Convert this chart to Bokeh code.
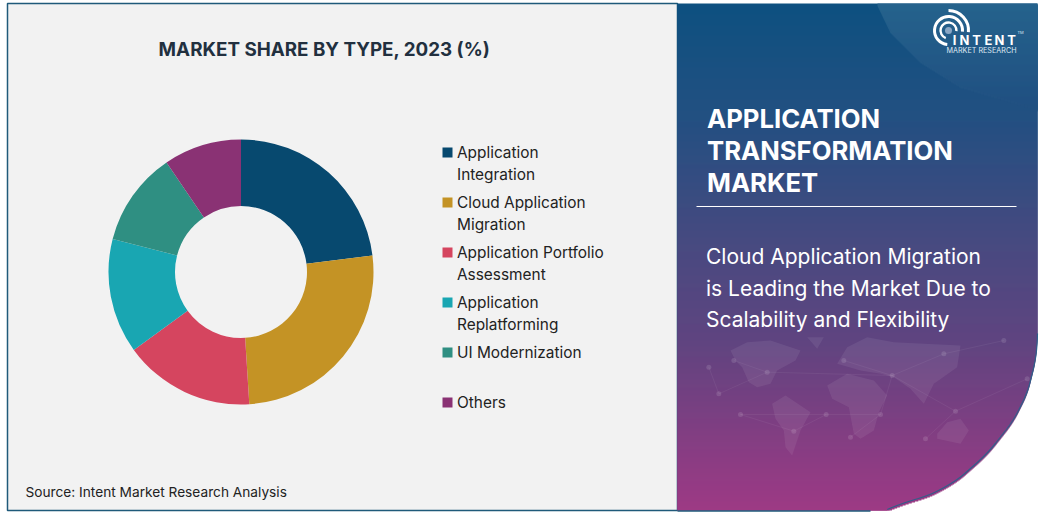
import numpy as np
from bokeh.plotting import figure
from bokeh.models import Range1d
from bokeh.core.properties import value
from bokeh.embed import file_html
from bokeh.resources import INLINE

# ---- chart data ----
categories = ["Application Integration", "Cloud Application Migration",
              "Application Portfolio Assessment", "Application Replatforming",
              "UI Modernization", "Others"]
shares = [23, 26, 16, 14, 11.5, 9.5]
colors = ["#07496f", "#c49325", "#d5455f", "#19a6b2", "#2f8f82", "#8a3274"]
legend_lines = [["Application", "Integration"], ["Cloud Application", "Migration"],
                ["Application Portfolio", "Assessment"], ["Application", "Replatforming"],
                ["UI Modernization"], ["Others"]]
title_text = "MARKET SHARE BY TYPE, 2023 (%)"
source_text = "Source: Intent Market Research Analysis"
panel_title = ["APPLICATION", "TRANSFORMATION", "MARKET"]
panel_sub = ["Cloud Application Migration", "is Leading the Market Due to", "Scalability and Flexibility"]

W, H = 1043, 513
FONT = value("Inter")
Y = lambda py: H - np.asarray(py, dtype=float)

p = figure(width=W, height=H, x_range=Range1d(0, W), y_range=Range1d(0, H),
           output_backend="svg", toolbar_location=None, min_border=0,
           background_fill_color="white", border_fill_color="white",
           outline_line_color=None,
           styles={"position": "absolute", "left": "0px", "top": "0px"})
p.axis.visible = False
p.grid.visible = False

# ---- left panel ----
p.quad(left=[7], right=[677], top=Y([3]), bottom=Y([510]), fill_color="#f2f2f2",
       line_color="#1f5a7a", line_width=1.5)

# ---- right panel: gradient strips, curved lower-right edge ----
curve_y = [3, 340, 360, 392, 420, 453, 483, 502, 510]
curve_x = [1037, 1037, 1035, 1027, 1013, 987, 953, 913, 867]
stop_y = [3, 120, 250, 340, 510]
stop_rgb = np.array([[14, 82, 128], [36, 80, 130], [74, 74, 128], [96, 69, 128], [158, 58, 133]], dtype=float)
ys = np.arange(3, 510)
edge = np.interp(ys, curve_y, curve_x)
edge = np.convolve(np.pad(edge, 10, mode="edge"), np.ones(21) / 21, mode="valid")
rgb = np.stack([np.interp(ys, stop_y, stop_rgb[:, i]) for i in range(3)], axis=1)
hexes = lambda a: ["#%02x%02x%02x" % tuple(int(v) for v in c) for c in a]
# each strip overlaps the next, so no anti-aliased seams let the white through
strip_bottom = np.minimum(ys + 3, 510)
p.quad(left=677, right=edge, top=Y(ys), bottom=Y(strip_bottom), fill_color=hexes(rgb), line_color=None)
p.line(edge[330:], Y(ys[330:]), line_color="#2f5f8a", line_width=1.2)
p.line([677, 870], Y([510.5, 510.5]), line_color="#1f5a7a", line_width=1.5)

# lighter arc in the top-right corner, fading downwards (opaque blended strips)
arc_y = [3, 30, 60, 85, 108]
arc_x = [877, 890, 920, 960, 1037]
ay = np.arange(3, 108)
ax = np.interp(ay, arc_y, arc_x)
aalpha = np.interp(ay, [3, 105], [0.10, 0.0])[:, None]
arc_rgb = rgb[:105] * (1 - aalpha) + 255 * aalpha
p.quad(left=ax, right=1037, top=Y(ay), bottom=Y(ay + 3), fill_color=hexes(arc_rgb), line_color=None)
p.quad(left=[1030], right=[1037], top=Y([108]), bottom=Y([111]), fill_color=hexes(rgb[105:106]), line_color=None)

# faint world map
conv = lambda pts: ([660 + a / 3 for a, _ in pts], list(Y([340 + b / 3 for _, b in pts])))
continents = [
    [(210, 30), (260, 5), (330, 0), (420, 30), (405, 60), (350, 90), (330, 130), (290, 140), (265, 125), (245, 80), (225, 60)],
    [(335, 190), (375, 165), (450, 215), (420, 270), (395, 345), (375, 320), (370, 270), (345, 235)],
    [(500, 135), (560, 100), (640, 120), (680, 165), (655, 215), (640, 270), (600, 295), (580, 280), (565, 200), (515, 175)],
    [(530, 70), (560, 20), (620, -10), (700, 5), (900, 15), (890, 80), (820, 130), (790, 190), (750, 145), (700, 110), (660, 100), (600, 90)],
    [(830, 280), (860, 245), (900, 235), (925, 270), (900, 310), (830, 295)],
    [(440, -10), (490, -10), (470, 25)],
]
for c in continents:
    xs, yy = conv(c)
    p.patch(xs, yy, fill_color="white", fill_alpha=0.07, line_color=None)
nodes = [(175, 160), (240, 222), (497, 222), (145, 80), (220, 60), (320, 95), (400, 272), (660, 222),
         (885, 212), (695, 105), (850, 40), (550, 60), (795, 295), (570, 290), (1030, 0), (1100, 115)]
links = [(0, 5), (0, 3), (1, 2), (2, 6), (2, 7), (7, 9), (9, 10), (9, 11), (9, 8), (5, 4), (8, 12), (7, 13), (10, 14), (8, 15), (5, 9), (6, 1)]
for a, b in links:
    xs, yy = conv([nodes[a], nodes[b]])
    p.line(xs, yy, line_color="white", line_alpha=0.07, line_width=0.8)
nx, ny = conv(nodes)
p.scatter(nx, ny, size=5, fill_color="white", fill_alpha=0.12, line_color=None)

# ---- donut ----
vals = np.array(shares, dtype=float)
edges = np.concatenate([[0], np.cumsum(vals)]) / vals.sum() * 2 * np.pi
p.annular_wedge(x=240.5, y=H - 271.5, inner_radius=66, outer_radius=132.5,
                start_angle=np.pi / 2 - edges[:-1], end_angle=np.pi / 2 - edges[1:],
                direction="clock", fill_color=colors, line_color=None)

# ---- legend ----
for i, (col, lines) in enumerate(zip(colors, legend_lines)):
    top = 152 + 50 * i
    p.quad(left=[442], right=[452], top=Y([top - 5]), bottom=Y([top + 5]), fill_color=col, line_color=None)
    for j, t in enumerate(lines):
        p.text([456.5], Y([top - 0.5 + 22 * j]), text=[t], text_font=FONT, text_font_size="15.4px",
               text_color="#222222", text_baseline="middle", text_align="left")

# ---- texts ----
p.text([324], Y([49]), text=[title_text], text_font=FONT, text_font_size="18.8px", text_font_style="bold",
       text_color="#22303f", text_baseline="middle", text_align="center")
p.text([25], Y([491]), text=[source_text], text_font=FONT, text_font_size="13.7px",
       text_color="#222222", text_baseline="middle", text_align="left")
for t, py in zip(panel_title, [118, 150, 182]):
    p.text([706.5], Y([py]), text=[t], text_font=FONT, text_font_size="25.7px", text_font_style="bold",
           text_color="white", text_baseline="middle", text_align="left")
p.line([696, 1016], Y([206, 206]), line_color="white", line_width=1)
for t, py in zip(panel_sub, [255.5, 287.5, 318.5]):
    p.text([705.5], Y([py]), text=[t], text_font=FONT, text_font_size="21px",
           text_color="white", text_baseline="middle", text_align="left")

# ---- logo ----
lx, ly = 948, H - 30
for r, a0, a1, w in [(20, -5, 90, 3), (14, -5, 265, 3), (8, -5, 250, 2.4)]:
    p.arc(x=[lx], y=[ly], radius=r, start_angle=np.radians(a0), end_angle=np.radians(a1),
          line_color="white", line_width=w)
p.scatter([lx], [ly], size=7, fill_color="#8aa6c4", line_color=None)
for ch, lxp in zip("INTENT", [954, 964, 976, 988, 999, 1011]):
    p.text([lxp], Y([39]), text=[ch], text_font=FONT, text_font_size="13px", text_font_style="bold",
           text_color="white", text_baseline="middle", text_align="center")
p.text([981], Y([50]), text=["MARKET RESEARCH"], text_font=FONT, text_font_size="7.2px",
       text_color="#dfe8f2", text_baseline="middle", text_align="center")
p.text([1017], Y([32]), text=["TM"], text_font=FONT, text_font_size="4px",
       text_color="#dfe8f2", text_baseline="middle", text_align="left")

open("out.html", "w").write(file_html(p, INLINE))
